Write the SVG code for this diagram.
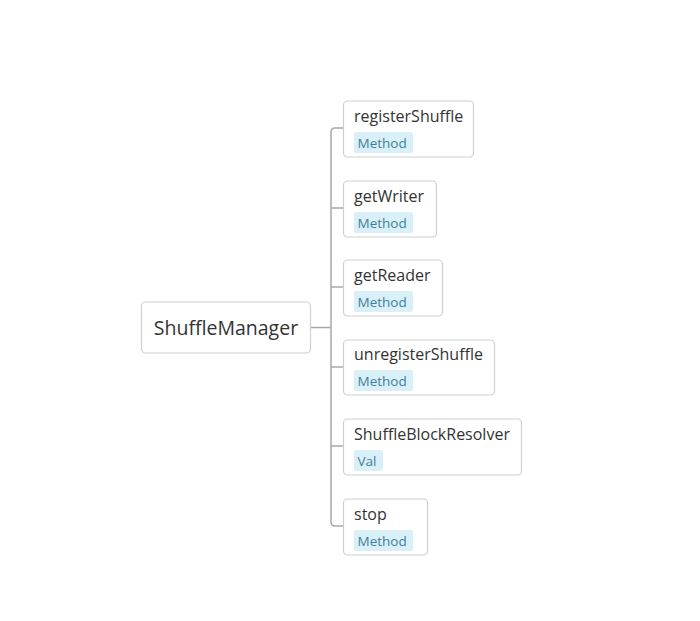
<svg xmlns="http://www.w3.org/2000/svg" width="700" height="621" viewBox="0 0 700 621">
<style>
.box{fill:#fff;stroke:#cfcfcf;stroke-width:1.2}
.lbl{font-family:"Open Sans","Noto Sans",sans-serif;font-size:16px;fill:#333}
.root{font-family:"Open Sans","Noto Sans",sans-serif;font-size:19.5px;fill:#333}
.tag{fill:#d9f0f8}
.tagt{font-family:"Open Sans","Noto Sans",sans-serif;font-size:13.5px;fill:#3f7f9c}
.conn{fill:none;stroke:#a8a8a8;stroke-width:1.5}
</style>
<rect width="700" height="621" fill="#fff"/>
<g id="connectors">
<path class="conn" d="M310 327.5 H331"/>
<path class="conn" d="M343 128 H335 Q331 128 331 132 V522 Q331 526 335 526 H343"/>
<path class="conn" d="M331 208 H343"/>
<path class="conn" d="M331 287 H343"/>
<path class="conn" d="M331 367 H343"/>
<path class="conn" d="M331 446 H343"/>
</g>
<g id="ShuffleManager">
<rect class="box" x="141.5" y="302" width="169" height="51" rx="4"/>
<text class="root" x="226" y="334.5" text-anchor="middle">ShuffleManager</text>
</g>
<g id="registerShuffle">
<rect class="box" x="343.5" y="101" width="130" height="56" rx="4"/>
<text class="lbl" x="354" y="122">registerShuffle</text>
<rect class="tag" x="354" y="132" width="59" height="21" rx="2"/>
<text class="tagt" x="357.5" y="148">Method</text>
</g>
<g id="getWriter">
<rect class="box" x="343.5" y="181" width="93" height="56" rx="4"/>
<text class="lbl" x="354" y="202">getWriter</text>
<rect class="tag" x="354" y="212" width="59" height="21" rx="2"/>
<text class="tagt" x="357.5" y="228">Method</text>
</g>
<g id="getReader">
<rect class="box" x="343.5" y="260" width="99" height="56" rx="4"/>
<text class="lbl" x="354" y="281">getReader</text>
<rect class="tag" x="354" y="291" width="59" height="21" rx="2"/>
<text class="tagt" x="357.5" y="307">Method</text>
</g>
<g id="unregisterShuffle">
<rect class="box" x="343.5" y="340" width="151" height="55" rx="4"/>
<text class="lbl" x="354" y="360">unregisterShuffle</text>
<rect class="tag" x="354" y="370" width="59" height="21" rx="2"/>
<text class="tagt" x="357.5" y="386">Method</text>
</g>
<g id="ShuffleBlockResolver">
<rect class="box" x="343.5" y="419" width="178" height="56" rx="4"/>
<text class="lbl" x="354" y="440">ShuffleBlockResolver</text>
<rect class="tag" x="354" y="450" width="29" height="21" rx="2"/>
<text class="tagt" x="357.5" y="466">Val</text>
</g>
<g id="stop">
<rect class="box" x="343.5" y="499" width="84" height="56" rx="4"/>
<text class="lbl" x="354" y="520">stop</text>
<rect class="tag" x="354" y="530" width="59" height="21" rx="2"/>
<text class="tagt" x="357.5" y="546">Method</text>
</g>
</svg>
